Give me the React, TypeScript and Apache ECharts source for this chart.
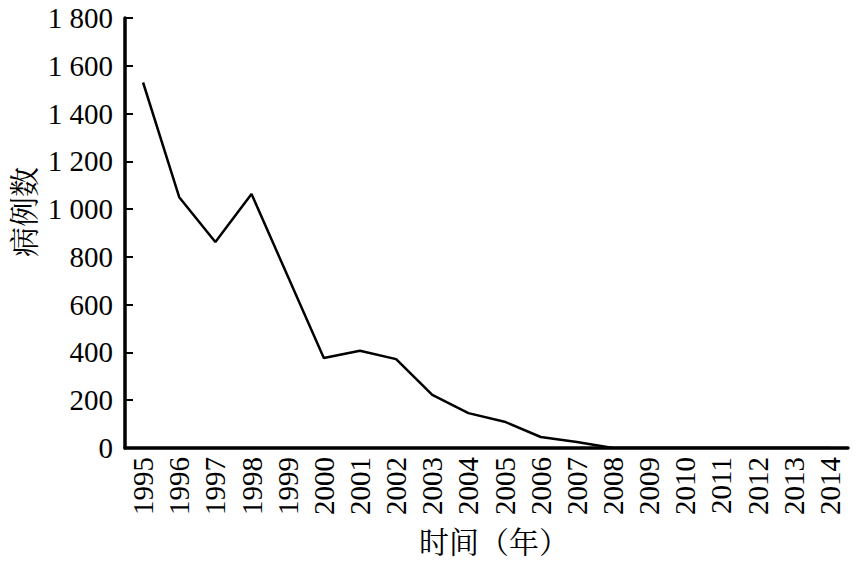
import React, { useEffect, useRef } from "react";
import * as echarts from "echarts";

const years = ["1995","1996","1997","1998","1999","2000","2001","2002","2003","2004","2005","2006","2007","2008","2009","2010","2011","2012","2013","2014"];
const cases = [1530, 1050, 862, 1063, 720, 377, 407, 372, 222, 146, 110, 46, 25, 0, 0, 0, 0, 0, 0, 0];
const yTicks = { min: 0, max: 1800, interval: 200 };
const xTitle = "时间（年）";
const yTitle = "病例数";

const serif = "'Liberation Serif', 'Times New Roman', 'Noto Serif CJK SC', 'Noto Sans CJK SC', serif";
const cjk = "'Noto Serif CJK SC', 'Noto Sans CJK SC', serif";

export default function App() {
  const ref = useRef<HTMLDivElement>(null);
  useEffect(() => {
    if (!ref.current) return;
    const chart = echarts.init(ref.current, null, { renderer: "svg" });
    chart.setOption({
      animation: false,
      backgroundColor: "#ffffff",
      grid: { left: 125, right: 9, top: 18, bottom: 113, containLabel: false },
      xAxis: {
        type: "category",
        data: years,
        boundaryGap: true,
        axisLine: { lineStyle: { color: "#000", width: 3.5 } },
        axisTick: { inside: true, length: 7, lineStyle: { color: "#000", width: 2 } },
        axisLabel: { rotate: 90, fontSize: 29, color: "#000", fontFamily: serif, margin: 9, interval: 0 },
        splitLine: { show: false },
      },
      yAxis: {
        type: "value",
        min: yTicks.min,
        max: yTicks.max,
        interval: yTicks.interval,
        axisLine: { show: true, lineStyle: { color: "#000", width: 3.5 } },
        axisTick: { show: true, inside: true, length: 8, lineStyle: { color: "#000", width: 2 } },
        axisLabel: {
          fontSize: 29,
          color: "#000",
          fontFamily: serif,
          margin: 12,
          formatter: (v: number) => (v >= 1000 ? Math.floor(v / 1000) + " " + String(v % 1000).padStart(3, "0") : String(v)),
        },
        splitLine: { show: false },
      },
      graphic: [
        {
          type: "text",
          x: 494,
          y: 540,
          style: { text: xTitle, fontSize: 30, fill: "#000", fontFamily: cjk, align: "center", verticalAlign: "middle" },
        },
        {
          type: "text",
          x: 22,
          y: 212,
          rotation: Math.PI / 2,
          style: { text: yTitle, fontSize: 30, fill: "#000", fontFamily: cjk, align: "center", verticalAlign: "middle" },
        },
      ],
      series: [
        {
          type: "line",
          data: cases,
          showSymbol: false,
          symbol: "none",
          lineStyle: { color: "#000", width: 2.5 },
        },
      ],
    });
    return () => chart.dispose();
  }, []);
  return <div ref={ref} style={{ width: 857, height: 561, position: "absolute", left: 0, top: 0 }} />;
}
